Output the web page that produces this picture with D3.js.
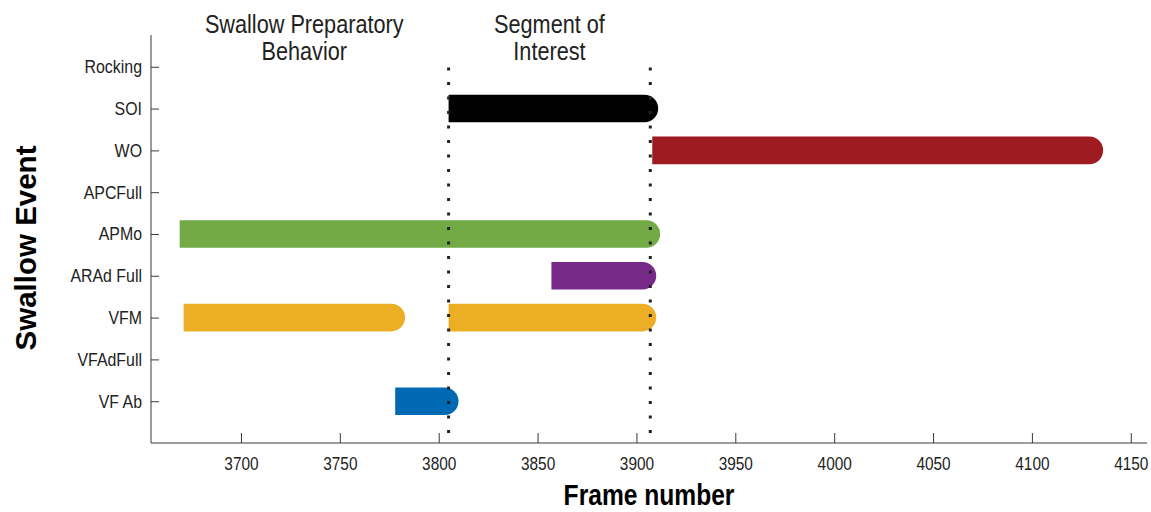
<!DOCTYPE html>
<html>
<head>
<meta charset="utf-8">
<script src="https://cdn.jsdelivr.net/npm/d3@7"></script>
<style>
  html, body { margin: 0; padding: 0; background: #fff; }
  svg { display: block; font-family: "Liberation Sans", Arial, sans-serif; }
  .narrow { transform-box: fill-box; transform-origin: center; }
</style>
</head>
<body>
<svg id="chart" width="1151" height="512"></svg>
<script>
// Swallow events, listed top to bottom on the y axis
const events = ["Rocking", "SOI", "WO", "APCFull", "APMo", "ARAd Full", "VFM", "VFAdFull", "VF Ab"];

// Event intervals in frame numbers (one entry per bar)
const segEvent = ["SOI", "WO", "APMo", "ARAd Full", "VFM", "VFM", "VF Ab"];
const segStart = [3805, 3908, 3669, 3857, 3671, 3805, 3778];
const segEnd   = [3911, 4136, 3912, 3910, 3783, 3910, 3810];

// Frame ticks on the x axis
const frameTicks = [3700, 3750, 3800, 3850, 3900, 3950, 4000, 4050, 4100, 4150];

// Boundaries of the segment of interest
const boundaries = [3805, 3907];

// Region captions: [frame at centre, line 1, line 2]
const captionFrame = [3732, 3856];
const captionLine1 = ["Swallow Preparatory", "Segment of"];
const captionLine2 = ["Behavior", "Interest"];

const eventColor = {
  "SOI": "#000000",
  "WO": "#9d1b21",
  "APMo": "#72ab46",
  "ARAd Full": "#772a88",
  "VFM": "#ebae24",
  "VF Ab": "#0069b4"
};

const svg = d3.select("#chart");
const axisLeft = 151, axisRight = 1147, axisTop = 35, axisBottom = 443;
const textColor = "#222";
const axisColor = "#3a3a3a";

const x = d3.scaleLinear().domain([3654.5, 4158.2]).range([axisLeft, axisRight]);
// Event index: VF Ab = 1 ... Rocking = 9
const yIdx = d3.scaleLinear().domain([0, 9.76]).range([axisBottom, axisTop]);
const yOf = name => yIdx(events.length - events.indexOf(name));
const barH = yIdx(0) - yIdx(0.66);

// Bars with a rounded right end
const bars = svg.append("g");
segEvent.forEach((ev, i) => {
  const x0 = x(segStart[i]), x1 = x(segEnd[i]);
  const yc = yOf(ev), r = barH / 2, y0 = yc - r;
  const p = d3.path();
  p.moveTo(x0, y0);
  p.lineTo(x1 - r, y0);
  p.arc(x1 - r, yc, r, -Math.PI / 2, Math.PI / 2, false);
  p.lineTo(x0, y0 + barH);
  p.closePath();
  bars.append("path").attr("d", p.toString()).attr("fill", eventColor[ev]);
});

// Dotted boundaries of the segment of interest
svg.append("g").selectAll("line").data(boundaries).join("line")
  .attr("x1", d => x(d)).attr("x2", d => x(d))
  .attr("y1", yIdx(8.98)).attr("y2", yIdx(0.2))
  .attr("stroke", "#222").attr("stroke-width", 3)
  .attr("stroke-dasharray", "3,11.5");

// X axis
const xAxis = d3.axisBottom(x).tickValues(frameTicks).tickSize(-10).tickPadding(15).tickFormat(d3.format("d"));
const gx = svg.append("g").attr("transform", `translate(0,${axisBottom})`).call(xAxis);
gx.select(".domain").attr("d", `M${axisLeft},0H${axisRight}`).attr("stroke", axisColor);
gx.selectAll(".tick line").attr("stroke", axisColor);
gx.selectAll(".tick text")
  .attr("class", "narrow")
  .style("transform", "scaleX(0.88)")
  .attr("font-size", 17.5).attr("fill", textColor)
  .attr("font-family", "Liberation Sans, Arial, sans-serif");

// Y axis
const yScaleBand = d3.scaleLinear().domain(yIdx.domain()).range(yIdx.range());
const yAxis = d3.axisLeft(yScaleBand)
  .tickValues(d3.range(1, events.length + 1))
  .tickFormat(i => events[events.length - i])
  .tickSize(-8).tickPadding(9);
const gy = svg.append("g").attr("transform", `translate(${axisLeft},0)`).call(yAxis);
gy.select(".domain").attr("d", `M0,${axisTop}V${axisBottom}`).attr("stroke", axisColor);
gy.selectAll(".tick line").attr("stroke", axisColor);
gy.selectAll(".tick text")
  .attr("class", "narrow")
  .style("transform-origin", "right center")
  .style("transform", "scaleX(0.86)")
  .attr("font-size", 18.5).attr("fill", textColor)
  .attr("font-family", "Liberation Sans, Arial, sans-serif");

// Region captions
const caps = svg.append("g");
captionFrame.forEach((f, i) => {
  [captionLine1[i], captionLine2[i]].forEach((t, j) => {
    caps.append("text")
      .attr("class", "narrow")
      .style("transform", "scaleX(0.85)")
      .attr("x", x(f)).attr("y", 33 + j * 27.5)
      .attr("text-anchor", "middle")
      .attr("font-size", 25.5).attr("fill", textColor)
      .text(t);
  });
});

// Axis titles
svg.append("text")
  .attr("class", "narrow")
  .style("transform", "scaleX(0.82)")
  .attr("x", (axisLeft + axisRight) / 2).attr("y", 505)
  .attr("text-anchor", "middle")
  .attr("font-size", 30).attr("font-weight", "bold").attr("fill", "#000")
  .text("Frame number");

svg.append("text")
  .attr("transform", "translate(36,248) rotate(-90)")
  .attr("text-anchor", "middle")
  .attr("font-size", 29.5).attr("font-weight", "bold").attr("fill", "#000")
  .text("Swallow Event");
</script>
</body>
</html>
